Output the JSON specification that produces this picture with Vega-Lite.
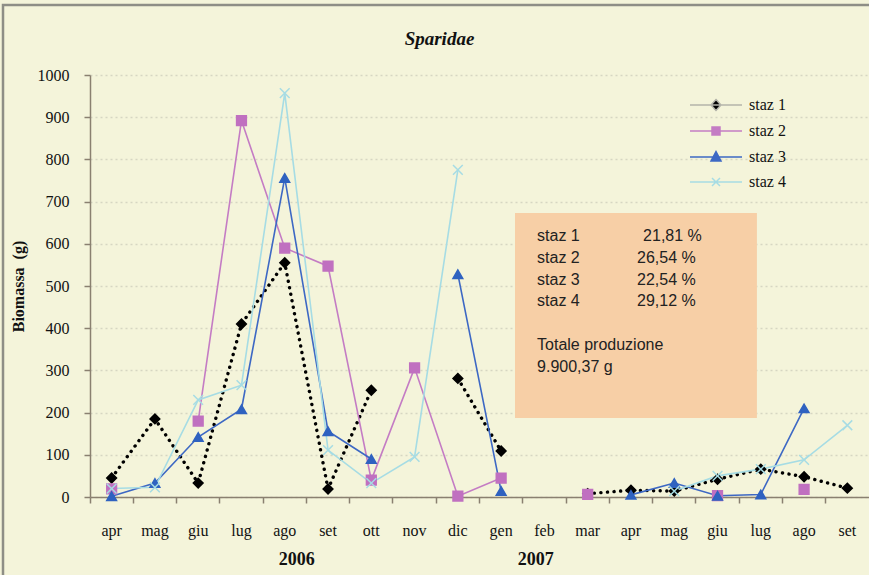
{
  "$schema": "https://vega.github.io/schema/vega-lite/v6.json",
  "width": 779,
  "height": 422,
  "autosize": "none",
  "padding": {"left": 90, "top": 75, "right": 0, "bottom": 78},
  "background": "#f4f4da",
  "config": {"view": {"stroke": null}},
  "title": {"text": "Sparidae", "font": "Liberation Serif", "fontSize": 19, "fontWeight": "bold", "fontStyle": "italic", "anchor": "middle", "frame": "group", "dx": -40, "offset": -45, "color": "#111"},
  "resolve": {"scale": {"x": "independent"}, "axis": {"x": "independent"}},
  "layer": [
    {
      "data": {"values": [{}]},
      "layer": [
        {
          "mark": {"type": "rect", "fill": null, "stroke": "#8e8e86", "strokeWidth": 2.5},
          "encoding": {
            "x": {"datum": -2.01, "type": "quantitative", "scale": {"domain": [0, 18]}, "axis": null},
            "x2": {"datum": 21},
            "y": {"datum": 1166, "type": "quantitative", "scale": {"domain": [0, 1000]}},
            "y2": {"datum": -400}
          }
        },
        {
          "mark": {"type": "rect", "fill": "#f7cfa6"},
          "encoding": {
            "x": {"datum": 9.82, "type": "quantitative", "scale": {"domain": [0, 18]}, "axis": null},
            "x2": {"datum": 15.41},
            "y": {"datum": 187, "type": "quantitative", "scale": {"domain": [0, 1000]}},
            "y2": {"datum": 673}
          }
        },
        {
          "mark": {"type": "text", "align": "left", "baseline": "top", "font": "Liberation Sans", "fontSize": 16, "lineHeight": 21.7, "color": "#222"},
          "encoding": {
            "x": {"datum": 10.33, "type": "quantitative", "scale": {"domain": [0, 18]}, "axis": null},
            "y": {"datum": 637, "type": "quantitative", "scale": {"domain": [0, 1000]}},
            "text": {"value": ["staz 1", "staz 2", "staz 3", "staz 4"]}
          }
        },
        {
          "mark": {"type": "text", "align": "left", "baseline": "top", "font": "Liberation Sans", "fontSize": 16, "lineHeight": 21.7, "color": "#222"},
          "encoding": {
            "x": {"datum": 10.33, "type": "quantitative", "scale": {"domain": [0, 18]}, "axis": null},
            "y": {"datum": 379, "type": "quantitative", "scale": {"domain": [0, 1000]}},
            "text": {"value": ["Totale produzione", "9.900,37 g"]}
          }
        },
        {
          "mark": {"type": "text", "align": "left", "baseline": "top", "font": "Liberation Sans", "fontSize": 16, "color": "#222"},
          "encoding": {
            "x": {"datum": 12.78, "type": "quantitative", "scale": {"domain": [0, 18]}, "axis": null},
            "y": {"datum": 637, "type": "quantitative", "scale": {"domain": [0, 1000]}},
            "text": {"value": "21,81 %"}
          }
        },
        {
          "mark": {"type": "text", "align": "left", "baseline": "top", "font": "Liberation Sans", "fontSize": 16, "lineHeight": 21.7, "color": "#222"},
          "encoding": {
            "x": {"datum": 12.64, "type": "quantitative", "scale": {"domain": [0, 18]}, "axis": null},
            "y": {"datum": 585.6, "type": "quantitative", "scale": {"domain": [0, 1000]}},
            "text": {"value": ["26,54 %", "22,54 %", "29,12 %"]}
          }
        },
        {
          "mark": {"type": "text", "align": "center", "baseline": "middle", "font": "Liberation Serif", "fontSize": 18, "fontWeight": "bold", "color": "#111"},
          "encoding": {
            "x": {"datum": 4.78, "type": "quantitative", "scale": {"domain": [0, 18]}, "axis": null},
            "y": {"datum": -149, "type": "quantitative", "scale": {"domain": [0, 1000]}},
            "text": {"value": "2006"}
          }
        },
        {
          "mark": {"type": "text", "align": "center", "baseline": "middle", "font": "Liberation Serif", "fontSize": 18, "fontWeight": "bold", "color": "#111"},
          "encoding": {
            "x": {"datum": 10.3, "type": "quantitative", "scale": {"domain": [0, 18]}, "axis": null},
            "y": {"datum": -149, "type": "quantitative", "scale": {"domain": [0, 1000]}},
            "text": {"value": "2007"}
          }
        }
      ]
    },
    {
      "data": {
        "values": [
          {"t": "apr-06", "staz 1": 45, "staz 2": 19, "staz 3": 2, "staz 4": 20},
          {"t": "mag-06", "staz 1": 185, "staz 2": null, "staz 3": 33, "staz 4": 23},
          {"t": "giu-06", "staz 1": 33, "staz 2": 180, "staz 3": 142, "staz 4": 230},
          {"t": "lug-06", "staz 1": 410, "staz 2": 892, "staz 3": 208, "staz 4": 265},
          {"t": "ago-06", "staz 1": 555, "staz 2": 590, "staz 3": 756, "staz 4": 957},
          {"t": "set-06", "staz 1": 19, "staz 2": 547, "staz 3": 156, "staz 4": 111},
          {"t": "ott-06", "staz 1": 253, "staz 2": 40, "staz 3": 90, "staz 4": 33},
          {"t": "nov-06", "staz 1": null, "staz 2": 306, "staz 3": null, "staz 4": 95},
          {"t": "dic-06", "staz 1": 281, "staz 2": 2, "staz 3": 528, "staz 4": 775},
          {"t": "gen-07", "staz 1": 109, "staz 2": 45, "staz 3": 14, "staz 4": null},
          {"t": "feb-07", "staz 1": null, "staz 2": null, "staz 3": null, "staz 4": null},
          {"t": "mar-07", "staz 1": 8, "staz 2": 6, "staz 3": null, "staz 4": null},
          {"t": "apr-07", "staz 1": 16, "staz 2": null, "staz 3": 5, "staz 4": null},
          {"t": "mag-07", "staz 1": 14, "staz 2": null, "staz 3": 33, "staz 4": 14},
          {"t": "giu-07", "staz 1": 42, "staz 2": 3, "staz 3": 3, "staz 4": 50},
          {"t": "lug-07", "staz 1": 66, "staz 2": null, "staz 3": 6, "staz 4": 66},
          {"t": "ago-07", "staz 1": 48, "staz 2": 18, "staz 3": 210, "staz 4": 88},
          {"t": "set-07", "staz 1": 21, "staz 2": null, "staz 3": null, "staz 4": 170}
        ]
      },
      "transform": [{"fold": ["staz 1", "staz 2", "staz 3", "staz 4"], "as": ["serie", "val"]}],
      "resolve": {"scale": {"shape": "independent", "fill": "independent", "stroke": "independent"}},
      "encoding": {
        "x": {
          "field": "t", "type": "ordinal", "bandPosition": 0.5,
          "scale": {"type": "band", "paddingInner": 0, "paddingOuter": 0,
            "domain": ["apr-06", "mag-06", "giu-06", "lug-06", "ago-06", "set-06", "ott-06", "nov-06", "dic-06", "gen-07", "feb-07", "mar-07", "apr-07", "mag-07", "giu-07", "lug-07", "ago-07", "set-07"]},
          "axis": {"title": null, "bandPosition": 0, "labelExpr": "split(datum.label,'-')[0]", "labelDx": 21.64, "labelAlign": "center", "labelAngle": 0, "labelFont": "Liberation Serif", "labelFontSize": 16, "labelColor": "#111", "tickSize": 6, "tickColor": "#8a8070", "tickWidth": 1.5, "domainColor": "#8a8070", "domainWidth": 1.5, "labelPadding": 19, "grid": false}
        },
        "y": {
          "field": "val", "type": "quantitative",
          "scale": {"domain": [0, 1000], "nice": false},
          "axis": {"title": "Biomassa\u00a0 (g)", "titleFont": "Liberation Serif", "titleFontSize": 16, "titleFontWeight": "bold", "titleColor": "#111", "titlePadding": 11, "format": "d", "values": [0, 100, 200, 300, 400, 500, 600, 700, 800, 900, 1000], "labelFont": "Liberation Serif", "labelFontSize": 16, "labelColor": "#111", "labelPadding": 15, "tickSize": 6, "tickColor": "#8a8070", "tickWidth": 1.5, "domainColor": "#8a8070", "domainWidth": 1.5, "grid": true, "gridColor": "#d6d6c2", "gridDash": [2, 3], "gridWidth": 1.5}
        },
        "order": {"value": null}
      },
      "layer": [
        {
          "transform": [{"filter": "datum.serie === 'staz 1'"}],
          "mark": {"type": "line", "strokeWidth": 3.4, "strokeCap": "round", "strokeDash": [0.1, 6.5]},
          "encoding": {
            "color": {
              "field": "serie", "type": "nominal",
              "scale": {"domain": ["staz 1", "staz 2", "staz 3", "staz 4"], "range": ["#000000", "#c47cc4", "#3d68c4", "#a6dce4"]},
              "legend": null
            }
          }
        },
        {
          "transform": [{"filter": "datum.serie !== 'staz 1'"}],
          "mark": {"type": "line", "strokeWidth": 1.6},
          "encoding": {
            "color": {"field": "serie", "type": "nominal", "legend": null}
          }
        },
        {
          "mark": {"type": "point", "filled": true, "opacity": 1, "size": 95, "strokeWidth": 1.5},
          "encoding": {
            "shape": {"field": "serie", "type": "nominal", "scale": {"domain": ["staz 1", "staz 2", "staz 3", "staz 4"], "range": ["diamond", "square", "triangle-up", "M-1,-1L1,1M1,-1L-1,1"]}, "legend": null},
            "fill": {"field": "serie", "type": "nominal", "scale": {"domain": ["staz 1", "staz 2", "staz 3", "staz 4"], "range": ["#000000", "#c070c0", "#2f62c0", "#a6dce4"]}, "legend": null},
            "stroke": {"field": "serie", "type": "nominal", "scale": {"domain": ["staz 1", "staz 2", "staz 3", "staz 4"], "range": ["#000000", "#c070c0", "#2f62c0", "#a6dce4"]}, "legend": null}
          }
        },
        {
          "transform": [{"filter": "datum.val === -999"}],
          "mark": {"type": "point", "filled": true, "opacity": 1, "size": 100, "strokeWidth": 1.5},
          "encoding": {
            "shape": {"field": "serie", "type": "nominal",
              "scale": {"domain": ["staz 1", "staz 2", "staz 3", "staz 4"], "range": ["M-5.2,0L5.2,0M0,-1.1L1,0L0,1.1L-1,0Z", "M-5.2,0L5.2,0M-0.8,-0.8L0.8,-0.8L0.8,0.8L-0.8,0.8Z", "M-5.2,0L5.2,0M0,-1.1L1,0.8L-1,0.8Z", "M-5.2,0L5.2,0M-0.8,-0.8L0.8,0.8M0.8,-0.8L-0.8,0.8"]},
              "legend": {"orient": "none", "legendX": 618, "legendY": 22, "title": null, "padding": 0, "symbolSize": 100, "symbolStrokeWidth": 1.5, "labelOffset": 25, "rowPadding": 9, "labelFont": "Liberation Serif", "labelFontSize": 16, "labelColor": "#111"}},
            "fill": {"field": "serie", "type": "nominal",
              "scale": {"domain": ["staz 1", "staz 2", "staz 3", "staz 4"], "range": ["#000000", "#c47cc4", "#3d68c4", "transparent"]},
              "legend": {"orient": "none", "legendX": 618, "legendY": 22, "title": null, "padding": 0, "symbolSize": 100, "symbolStrokeWidth": 1.5, "labelOffset": 25, "rowPadding": 9, "labelFont": "Liberation Serif", "labelFontSize": 16, "labelColor": "#111"}},
            "stroke": {"field": "serie", "type": "nominal",
              "scale": {"domain": ["staz 1", "staz 2", "staz 3", "staz 4"], "range": ["#b4b4aa", "#c47cc4", "#3d68c4", "#a6dce4"]},
              "legend": {"orient": "none", "legendX": 618, "legendY": 22, "title": null, "padding": 0, "symbolSize": 100, "symbolStrokeWidth": 1.5, "labelOffset": 25, "rowPadding": 9, "labelFont": "Liberation Serif", "labelFontSize": 16, "labelColor": "#111"}}
          }
        }
      ]
    }
  ]
}
